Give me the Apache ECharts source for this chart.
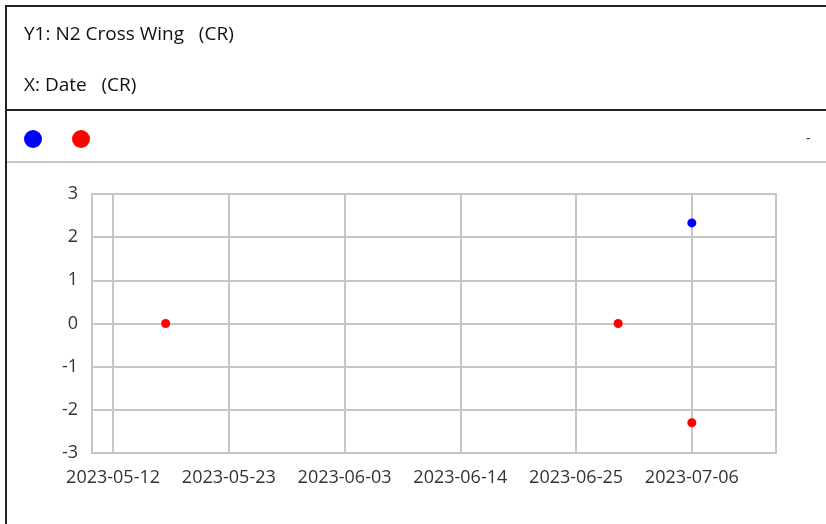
<!DOCTYPE html>
<html>
<head>
<meta charset="utf-8">
<script src="https://cdn.jsdelivr.net/npm/echarts@6/dist/echarts.min.js"></script>
<style>
  html, body { margin: 0; padding: 0; background: #fff; }
  #main { width: 826px; height: 524px; }
</style>
</head>
<body>
<div id="main"></div>
<script>
// header captions
var yTitle = 'Y1: N2 Cross Wing   (CR)';
var xTitle = 'X: Date   (CR)';

// x ticks, every 11 days
var xTicks = ['2023-05-12', '2023-05-23', '2023-06-03', '2023-06-14', '2023-06-25', '2023-07-06'];
var xMin = '2023-05-10';
var xMax = '2023-07-14';

// y ticks
var yMin = -3, yMax = 3, yStep = 1;

// points
var blueDates = ['2023-07-06'];
var blueValues = [2.33];
var redDates = ['2023-05-17', '2023-06-29', '2023-07-06'];
var redValues = [0, 0, -2.3];

function toTime(s) {
    var p = s.split('-');
    return new Date(+p[0], +p[1] - 1, +p[2]).getTime();
}
function pairs(dates, vals) {
    var out = [];
    for (var i = 0; i < dates.length; i++) {
        out.push([toTime(dates[i]), vals[i]]);
    }
    return out;
}
function pad(n) { return n < 10 ? '0' + n : '' + n; }

var tickTimes = xTicks.map(toTime);
var fontFam = '"Open Sans", "Noto Sans", sans-serif';
var gridColor = '#c6c6c6';

var myChart = echarts.init(document.getElementById('main'), null, {renderer: 'canvas'});

var option = {
    animation: false,
    backgroundColor: '#fff',
    textStyle: {fontFamily: fontFam},
    graphic: [
        //外框
        {type: 'line', shape: {x1: 6, y1: 6, x2: 826, y2: 6}, style: {stroke: '#222', lineWidth: 2}},
        {type: 'line', shape: {x1: 6, y1: 5, x2: 6, y2: 524}, style: {stroke: '#222', lineWidth: 2}},
        {type: 'line', shape: {x1: 6, y1: 110, x2: 826, y2: 110}, style: {stroke: '#222', lineWidth: 2}},
        {type: 'line', shape: {x1: 7, y1: 162, x2: 826, y2: 162}, style: {stroke: '#c8c8c8', lineWidth: 2}},
        {type: 'text', left: 24, top: 25, style: {text: yTitle, fontSize: 19, fill: '#111', fontFamily: fontFam}},
        {type: 'text', left: 24, top: 76, style: {text: xTitle, fontSize: 19, fill: '#111', fontFamily: fontFam}},
        {type: 'text', left: 806, top: 132, style: {text: '-', fontSize: 14, fill: '#333', fontFamily: fontFam}}
    ],
    legend: {
        left: 19,
        top: 125,
        icon: 'circle',
        itemWidth: 18,
        itemHeight: 18,
        itemGap: 30,
        formatter: function () { return ''; },
        data: ['s1', 's2']
    },
    grid: {
        left: 92,
        right: 50,
        top: 194,
        bottom: 71,
        show: true,
        borderColor: gridColor,
        borderWidth: 2
    },
    xAxis: {
        type: 'value',
        min: toTime(xMin),
        max: toTime(xMax),
        axisLine: {show: false},
        axisTick: {show: false, customValues: tickTimes},
        splitLine: {show: true, lineStyle: {color: gridColor, width: 2}},
        axisLabel: {
            customValues: tickTimes,
            fontSize: 18,
            color: '#333',
            margin: 16,
            fontFamily: fontFam,
            formatter: function (v) {
                var d = new Date(v);
                return d.getFullYear() + '-' + pad(d.getMonth() + 1) + '-' + pad(d.getDate());
            }
        }
    },
    yAxis: {
        type: 'value',
        min: yMin,
        max: yMax,
        interval: yStep,
        axisLine: {show: true, lineStyle: {color: gridColor, width: 2}},
        axisTick: {show: false},
        splitLine: {show: true, lineStyle: {color: gridColor, width: 2}},
        axisLabel: {fontSize: 18, color: '#333', margin: 14, fontFamily: fontFam}
    },
    series: [
        {
            name: 's1',
            type: 'scatter',
            symbolSize: 9,
            itemStyle: {color: '#0000ff', opacity: 1},
            data: pairs(blueDates, blueValues)
        },
        {
            name: 's2',
            type: 'scatter',
            symbolSize: 9,
            itemStyle: {color: '#ff0000', opacity: 1},
            data: pairs(redDates, redValues)
        }
    ]
};
myChart.setOption(option);
</script>
</body>
</html>
